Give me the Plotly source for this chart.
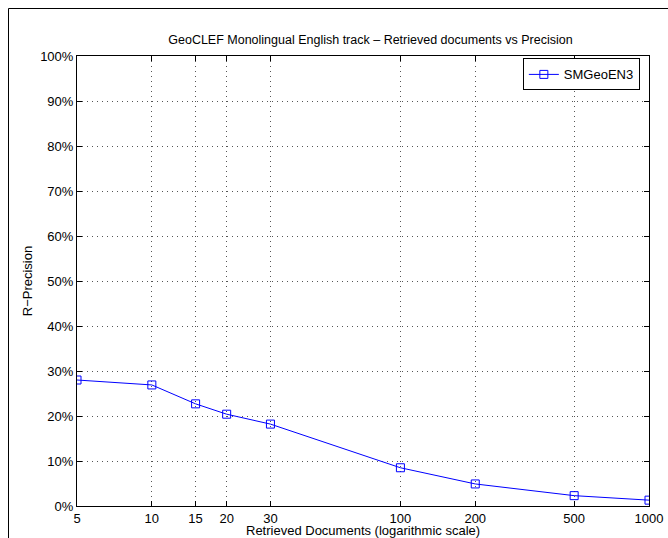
import plotly.graph_objects as go

# retrieved documents (log scale) vs R-precision
docs = [5, 10, 15, 20, 30, 100, 200, 500, 1000]
precision = [0.280, 0.269, 0.227, 0.204, 0.182, 0.085, 0.049, 0.023, 0.013]
xticks = [5, 10, 15, 20, 30, 100, 200, 500, 1000]
yticks = [i / 10 for i in range(11)]
serie = "SMGeoEN3"

police = "Liberation Sans, Arial, Helvetica, sans-serif"

W, H = 668, 538
gauche, droite, haut, bas = 77, 649, 56, 506

fig = go.Figure()
fig.add_trace(go.Scatter(
    x=docs, y=precision, name=serie, mode="lines+markers",
    line=dict(color="#0000ff", width=1),
    marker=dict(symbol="square-open", size=8, color="#0000ff", line=dict(width=1)),
))

axe = dict(
    showline=True, linecolor="black", linewidth=1, mirror="allticks",
    ticks="inside", ticklen=5, tickcolor="black", automargin=False,
    showgrid=True, gridcolor="#555", griddash="1px,4px", gridwidth=1,
    zeroline=False, tickfont=dict(size=13, color="black", family=police),
)

fig.update_xaxes(
    type="log", range=[0.69897, 3], tickvals=xticks,
    ticktext=[str(v) for v in xticks],
    **axe,
)
fig.update_yaxes(
    range=[0, 1], tickvals=yticks, tickformat=".0%",
    title=dict(text="R\u2212Precision", standoff=4,
               font=dict(size=13, color="black", family=police)),
    **axe,
)

# titre de l'axe x : annotation, la marge du bas est trop petite pour le titre d'axe
fig.add_annotation(
    text="Retrieved Documents (logarithmic scale)", showarrow=False,
    xref="paper", yref="paper", x=0.5, y=-(530.5 - bas) / (bas - haut),
    xanchor="center", yanchor="middle", borderpad=0,
    font=dict(size=13, color="black", family=police),
)

fig.update_layout(
    width=W, height=H,
    margin=dict(l=gauche, r=W - droite, t=haut, b=H - bas),
    paper_bgcolor="white", plot_bgcolor="white",
    font=dict(family=police, size=13, color="black"),
    title=dict(text="GeoCLEF Monolingual English track \u2013 Retrieved documents vs Precision",
               x=0.513, xref="paper", xanchor="center",
               y=1 - 40 / H, yref="container", yanchor="middle",
               font=dict(size=12.5, color="black", family=police)),
    showlegend=True,
    legend=dict(x=0.984, y=0.959, xanchor="right", yanchor="middle",
                bgcolor="white", bordercolor="black", borderwidth=1,
                font=dict(size=13, color="black", family=police)),
    # cadre autour de la figure (seuls les bords gauche et haut sont visibles)
    shapes=[dict(type="rect", xref="paper", yref="paper",
                 x0=(8.5 - gauche) / (droite - gauche), x1=1.2, y0=-0.2,
                 y1=1 + (haut - 8.5) / (bas - haut),
                 line=dict(color="black", width=1))],
)

fig.write_html("out.html", config={"displayModeBar": False},
               post_script="document.body.style.margin='0';document.body.style.overflow='hidden';")
